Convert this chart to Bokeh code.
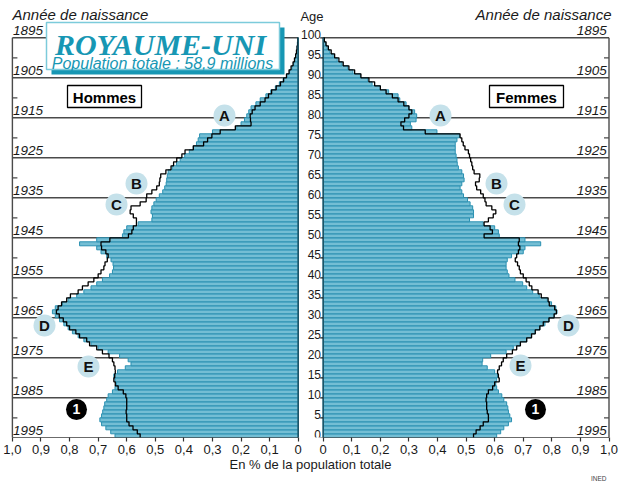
from bokeh.plotting import figure
from bokeh.models import Range1d, FixedTicker, CustomJSTickFormatter, LinearAxis, Title
from bokeh.embed import file_html
from bokeh.resources import INLINE
from bokeh.core.properties import value

# ---------------- data (percent of total population, single years of age) -------------
ages = list(range(100))

men = [0.641, 0.656, 0.673, 0.688, 0.694, 0.688, 0.684, 0.680, 0.677, 0.670,
       0.665, 0.650, 0.641, 0.636, 0.641, 0.645, 0.632, 0.605, 0.585, 0.595,
       0.625, 0.665, 0.700, 0.725, 0.750, 0.770, 0.790, 0.805, 0.820, 0.835,
       0.850, 0.860, 0.850, 0.825, 0.805, 0.775, 0.750, 0.725, 0.705, 0.685,
       0.660, 0.650, 0.646, 0.648, 0.655, 0.670, 0.690, 0.705, 0.765, 0.705,
       0.615, 0.610, 0.600, 0.560, 0.512, 0.510, 0.515, 0.512, 0.505, 0.497,
       0.486, 0.474, 0.467, 0.462, 0.460, 0.458, 0.455, 0.441, 0.426, 0.413,
       0.397, 0.381, 0.367, 0.356, 0.350, 0.345, 0.300, 0.215, 0.200, 0.188,
       0.180, 0.173, 0.165, 0.148, 0.133, 0.113, 0.096, 0.080, 0.066, 0.053,
       0.040, 0.030, 0.022, 0.016, 0.012, 0.009, 0.006, 0.004, 0.003, 0.002]

men_ref = [0.553, 0.563, 0.578, 0.592, 0.600, 0.600, 0.602, 0.600, 0.600, 0.600,
           0.603, 0.612, 0.630, 0.640, 0.645, 0.642, 0.640, 0.641, 0.645, 0.650,
           0.662, 0.685, 0.705, 0.730, 0.740, 0.765, 0.778, 0.800, 0.810, 0.822,
           0.836, 0.846, 0.840, 0.828, 0.810, 0.797, 0.770, 0.755, 0.735, 0.715,
           0.700, 0.690, 0.680, 0.676, 0.668, 0.665, 0.673, 0.688, 0.690, 0.659,
           0.594, 0.582, 0.577, 0.566, 0.566, 0.577, 0.588, 0.585, 0.553, 0.532,
           0.530, 0.512, 0.495, 0.486, 0.484, 0.481, 0.463, 0.445, 0.436, 0.425,
           0.407, 0.396, 0.367, 0.331, 0.317, 0.302, 0.273, 0.220, 0.165, 0.167,
           0.168, 0.161, 0.151, 0.133, 0.116, 0.104, 0.093, 0.077, 0.062, 0.051,
           0.041, 0.032, 0.025, 0.018, 0.013, 0.009, 0.006, 0.004, 0.002, 0.001]

women = [0.607, 0.621, 0.632, 0.648, 0.659, 0.653, 0.648, 0.646, 0.642, 0.632,
         0.625, 0.613, 0.607, 0.604, 0.607, 0.610, 0.600, 0.574, 0.556, 0.558,
         0.586, 0.640, 0.665, 0.690, 0.712, 0.729, 0.742, 0.758, 0.776, 0.790,
         0.808, 0.818, 0.814, 0.799, 0.784, 0.756, 0.733, 0.712, 0.698, 0.671,
         0.650, 0.644, 0.640, 0.640, 0.644, 0.659, 0.700, 0.706, 0.761, 0.706,
         0.616, 0.613, 0.600, 0.560, 0.512, 0.526, 0.526, 0.523, 0.514, 0.505,
         0.491, 0.485, 0.479, 0.485, 0.493, 0.491, 0.485, 0.473, 0.469, 0.468,
         0.465, 0.462, 0.462, 0.462, 0.468, 0.477, 0.398, 0.310, 0.305, 0.325,
         0.327, 0.320, 0.300, 0.290, 0.268, 0.262, 0.229, 0.200, 0.171, 0.156,
         0.130, 0.104, 0.086, 0.066, 0.049, 0.035, 0.023, 0.014, 0.008, 0.003]

women_ref = [0.526, 0.535, 0.549, 0.560, 0.578, 0.578, 0.574, 0.572, 0.572, 0.570,
             0.572, 0.578, 0.593, 0.600, 0.616, 0.613, 0.610, 0.616, 0.624, 0.630,
             0.642, 0.662, 0.677, 0.690, 0.712, 0.729, 0.742, 0.758, 0.770, 0.790,
             0.808, 0.816, 0.810, 0.791, 0.787, 0.763, 0.752, 0.730, 0.721, 0.710,
             0.700, 0.690, 0.686, 0.680, 0.672, 0.677, 0.683, 0.688, 0.683, 0.686,
             0.563, 0.592, 0.584, 0.563, 0.578, 0.595, 0.604, 0.590, 0.570, 0.566,
             0.560, 0.551, 0.537, 0.533, 0.546, 0.548, 0.528, 0.523, 0.520, 0.516,
             0.512, 0.508, 0.496, 0.490, 0.485, 0.479, 0.357, 0.281, 0.272, 0.285,
             0.300, 0.310, 0.300, 0.282, 0.262, 0.242, 0.220, 0.200, 0.180, 0.160,
             0.132, 0.110, 0.090, 0.070, 0.055, 0.040, 0.028, 0.018, 0.010, 0.004]

pct_ticks = [0.0, 0.1, 0.2, 0.3, 0.4, 0.5, 0.6, 0.7, 0.8, 0.9, 1.0]
age_ticks = list(range(0, 101, 5))
census_year = 1995
birth_years = list(range(1895, 1996, 10))
marker_letters = ["A", "B", "C", "D", "E"]

# ---------------- layout helpers (reference pixel -> data) ----------------
PXU = 285.8          # pixels per 1 % on the horizontal axis
CX = 310.2           # x of the centre of the chart
G = 12.5 / PXU       # half gap between the two pyramids (data units)
def X(sx):
    return (sx - CX) / PXU
def Y(sy):
    return (437.3 - sy) / 4.0

FONT = "Liberation Sans"
BAR_FILL = "#74bed4"
BAR_LINE = "#2a90b1"
TEAL = "#1797b4"
GRID = "#4a4a4a"
FRAME_BOTTOM = 437

p = figure(width=620, height=483, x_range=Range1d(X(0), X(620)),
           y_range=Range1d(Y(FRAME_BOTTOM), Y(0)), output_backend="svg",
           toolbar_location=None, x_axis_type=None, y_axis_type=None,
           min_border_left=0, min_border_right=0, min_border_top=0,
           min_border_bottom=483 - FRAME_BOTTOM)
p.outline_line_color = None
p.background_fill_color = "white"

# bottom axis (both panels share one scale)
tick_pos = [-G - v for v in pct_ticks] + [G + v for v in pct_ticks]
xaxis = LinearAxis(ticker=FixedTicker(ticks=tick_pos, minor_ticks=[]),
                   formatter=CustomJSTickFormatter(args=dict(g=G), code="""
const v = Math.abs(tick) - g;
if (v < 0.05) { return '0'; }
return v.toFixed(1).replace('.', ',');
"""))
xaxis.axis_line_color = None
xaxis.major_tick_line_color = "#333333"
xaxis.major_tick_line_width = 1.2
xaxis.major_tick_out = 4
xaxis.major_tick_in = 0
xaxis.major_label_standoff = 3
xaxis.major_label_text_font = FONT
xaxis.major_label_text_font_size = "13px"
xaxis.major_label_text_color = "#1a1a1a"
xaxis.axis_label = "En % de la population totale"
xaxis.axis_label_standoff = 0
xaxis.axis_label_text_font = FONT
xaxis.axis_label_text_font_size = "13px"
xaxis.axis_label_text_font_style = "normal"
xaxis.axis_label_text_color = "#1a1a1a"
p.add_layout(xaxis, "below")
p.add_layout(Title(text="INED", align="right", text_font=FONT, text_font_size="6.5px",
                   text_font_style="normal", text_color="#444444", standoff=0,
                   vertical_align="top", offset=14), "below")

# birth-year lines (behind bars)
line_ages = [census_year - y for y in birth_years]
p.segment(x0=[-G - 1.0] * len(line_ages), x1=[-G] * len(line_ages),
          y0=line_ages, y1=line_ages, line_color=GRID, line_width=1.4)
p.segment(x0=[G] * len(line_ages), x1=[G + 1.0] * len(line_ages),
          y0=line_ages, y1=line_ages, line_color=GRID, line_width=1.4)

# outer spines with small ticks
p.segment(x0=[-G - 1.0, G + 1.0], x1=[-G - 1.0, G + 1.0], y0=[0, 0], y1=[100, 100],
          line_color=GRID, line_width=1.4)
minor_ages = [a for a in age_ticks if a % 10 == 5]
tl = 5.0 / PXU
p.segment(x0=[-G - 1.0] * len(minor_ages), x1=[-G - 1.0 + tl] * len(minor_ages),
          y0=minor_ages, y1=minor_ages, line_color=GRID, line_width=1.2)
p.segment(x0=[G + 1.0] * len(minor_ages), x1=[G + 1.0 - tl] * len(minor_ages),
          y0=minor_ages, y1=minor_ages, line_color=GRID, line_width=1.2)

# bars
ymid = [a + 0.5 for a in ages]
p.hbar(y=ymid, left=[-G - v for v in men], right=[-G] * len(ages), height=1,
       fill_color=BAR_FILL, line_color=BAR_LINE, line_width=1)
p.hbar(y=ymid, left=[G] * len(ages), right=[G + v for v in women], height=1,
       fill_color=BAR_FILL, line_color=BAR_LINE, line_width=1)

# reference outline (step line)
def step(vals, sign):
    xs, ys = [], []
    for a, v in zip(ages, vals):
        x = sign * (G + v)
        xs += [x, x]
        ys += [a, a + 1]
    xs.append(sign * G)
    ys.append(ages[-1] + 1)
    return xs, ys
mx, my = step(men_ref, -1)
fx, fy = step(women_ref, 1)
p.line(mx, my, line_color="black", line_width=1.3)
p.line(fx, fy, line_color="black", line_width=1.3)

# zero lines and bottom lines
p.segment(x0=[-G, G], x1=[-G, G], y0=[0, 0], y1=[100, 100],
          line_color="#1d5568", line_width=1.6)
p.segment(x0=[-G - 1.0, G], x1=[-G, G + 1.0], y0=[0, 0], y1=[0, 0],
          line_color="#333333", line_width=1.4)

# centre age scale
p.segment(x0=[G] * len(age_ticks), x1=[G - 3.0 / PXU] * len(age_ticks),
          y0=age_ticks, y1=age_ticks, line_color="#222222", line_width=1.2)
p.text(x=[X(320.5)] * len(age_ticks), y=[a + 0.85 for a in age_ticks],
       text=[str(a) for a in age_ticks], text_align="right", text_baseline="middle",
       text_font=value(FONT), text_font_size=value("12px"), text_color="#1a1a1a")
p.text(x=[X(311.5)], y=[Y(15.5)], text=["Age"], text_align="center",
       text_baseline="middle", text_font=value(FONT),
       text_font_size=value("13px"), text_color="#1a1a1a")

# birth-year labels
ylab = [str(y) for y in birth_years]
p.text(x=[-G - 1.0 + 0.002] * len(line_ages), y=[a + 1.75 for a in line_ages], text=ylab,
       text_align="left", text_baseline="middle", text_font=value(FONT),
       text_font_style="italic", text_font_size=value("13.5px"), text_color="#1a1a1a")
p.text(x=[G + 1.0 - 0.008] * len(line_ages), y=[a + 1.75 for a in line_ages], text=ylab,
       text_align="right", text_baseline="middle", text_font=value(FONT),
       text_font_style="italic", text_font_size=value("13.5px"), text_color="#1a1a1a")
p.text(x=[X(12), X(611)], y=[Y(13.5), Y(13.5)], text=["Année de naissance"] * 2,
       text_align=["left", "right"], text_baseline="middle", text_font=value(FONT),
       text_font_style="italic", text_font_size=value("15px"), text_color="#1a1a1a")

# Hommes / Femmes boxes
p.rect(x=[X(104), X(526)], y=[Y(96), Y(96)], width=74, height=22,
       width_units="screen", height_units="screen", fill_color="white",
       line_color="black", line_width=1.3)
p.text(x=[X(104), X(526)], y=[Y(96.5), Y(96.5)], text=["Hommes", "Femmes"],
       text_align="center", text_baseline="middle", text_font=value(FONT),
       text_font_style="bold", text_font_size=value("15px"), text_color="black")

# title box
p.rect(x=[X(167.5)], y=[Y(50.5)], width=233, height=47, width_units="screen",
       height_units="screen", fill_color=TEAL, line_color=None)
p.rect(x=[X(162.5)], y=[Y(45.5)], width=233, height=47, width_units="screen",
       height_units="screen", fill_color="white", line_color="#7ccbdb", line_width=1.5)
p.text(x=[X(160)], y=[Y(44)], text=["ROYAUME-UNI"], text_align="center",
       text_baseline="middle", text_font=value("Liberation Serif"),
       text_font_style="bold italic", text_font_size=value("30px"), text_color=TEAL)
p.text(x=[X(162)], y=[Y(62.5)], text=["Population totale : 58,9 millions"],
       text_align="center", text_baseline="middle", text_font=value(FONT),
       text_font_style="italic", text_font_size=value("16px"), text_color=TEAL)

# lettered markers
mpos = {"A": (224, 115, 440, 115), "B": (136, 183, 496, 183), "C": (116, 204, 514, 204),
        "D": (44, 325, 568, 325), "E": (88, 366, 520, 365)}
lx, ly, lt = [], [], []
for k in marker_letters:
    a, b, c, d = mpos[k]
    lx += [X(a), X(c)]
    ly += [Y(b), Y(d)]
    lt += [k, k]
p.scatter(x=lx, y=ly, size=22, marker="circle", fill_color="#c5e1ea", line_color=None)
p.text(x=lx, y=ly, text=lt, text_align="center", text_baseline="middle",
       text_font=value(FONT), text_font_style="bold", text_font_size=value("15px"),
       text_color="#111111")
p.scatter(x=[X(76), X(535)], y=[Y(409), Y(409)], size=21, marker="circle",
          fill_color="black", line_color=None)
p.text(x=[X(76), X(535)], y=[Y(408.5), Y(408.5)], text=["1", "1"], text_align="center",
       text_baseline="middle", text_font=value(FONT), text_font_style="bold",
       text_font_size=value("14px"), text_color="white")

open("out.html", "w").write(file_html(p, INLINE))
